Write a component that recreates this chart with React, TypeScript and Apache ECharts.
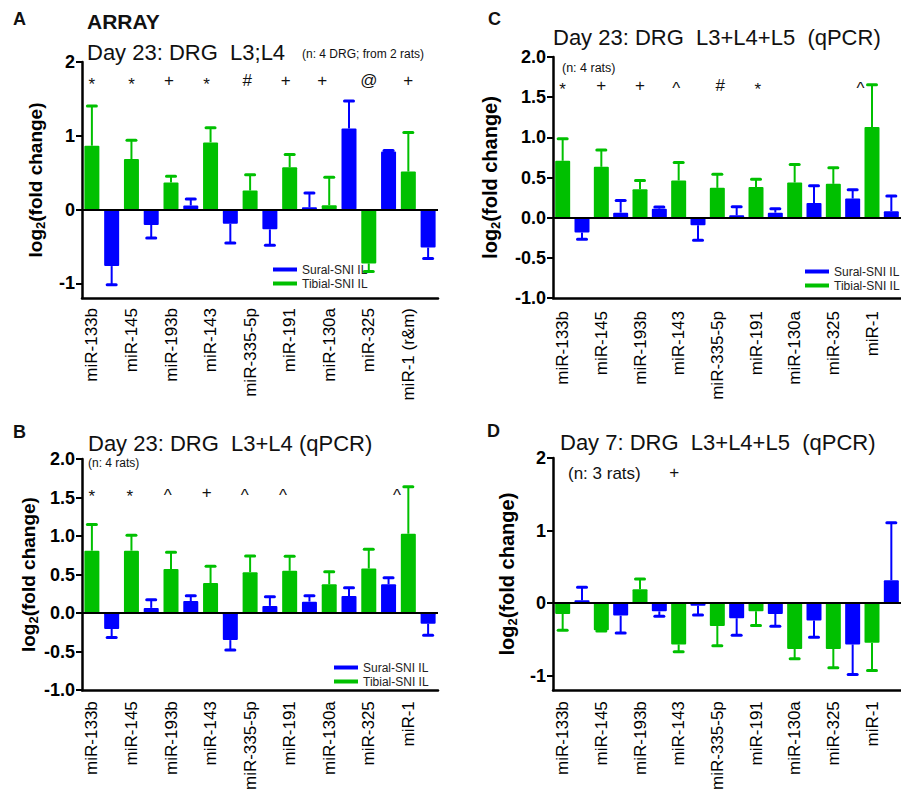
import React, { useEffect, useRef } from 'react';
import * as echarts from 'echarts';

const FONT = '"Liberation Sans", Arial, Helvetica, sans-serif';
const GREEN = '#00C000';
const BLUE = '#0000FF';
const SURAL = 'Sural-SNI IL';
const TIBIAL = 'Tibial-SNI IL';

// categories
const mirsArray = ['miR-133b', 'miR-145', 'miR-193b', 'miR-143', 'miR-335-5p', 'miR-191', 'miR-130a', 'miR-325', 'miR-1 (r&m)'];
const mirsQpcr = ['miR-133b', 'miR-145', 'miR-193b', 'miR-143', 'miR-335-5p', 'miR-191', 'miR-130a', 'miR-325', 'miR-1'];

// Panel A (ARRAY, day 23, L3;L4)
const tibialA = [0.865, 0.685, 0.365, 0.91, 0.257, 0.572, 0.058, -0.731, 0.514];
const tibialSemA = [0.54, 0.255, 0.085, 0.2, 0.215, 0.175, 0.38, 0.11, 0.53];
const suralA = [-0.767, -0.21, 0.054, -0.193, -0.269, 0.03, 1.1, 0.788, -0.516];
const suralSemA = [0.255, 0.175, 0.09, 0.26, 0.215, 0.195, 0.37, 0.012, 0.15];
const marksA: [number, string][] = [[0, '*'], [2, '*'], [3.9, '+'], [5.8, '*'], [7.85, '#'], [9.8, '+'], [11.65, '+'], [14, '@'], [16, '+']];
const markYA = 1.75;

// Panel B (qPCR, day 23, L3+L4)
const tibialB = [0.81, 0.81, 0.574, 0.391, 0.532, 0.549, 0.374, 0.579, 1.03];
const tibialSemB = [0.34, 0.2, 0.217, 0.218, 0.208, 0.19, 0.162, 0.25, 0.61];
const suralB = [-0.205, 0.068, 0.157, -0.35, 0.094, 0.149, 0.221, 0.374, -0.137];
const suralSemB = [0.11, 0.106, 0.07, 0.13, 0.12, 0.077, 0.107, 0.086, 0.15];
const marksB: [number, string][] = [[0, '*'], [1.92, '*'], [3.84, '^'], [5.81, '+'], [7.73, '^'], [9.66, '^'], [15.42, '^']];
const markYB = 1.57;

// Panel C (qPCR, day 23, L3+L4+L5)
const tibialC = [0.708, 0.633, 0.354, 0.4625, 0.371, 0.383, 0.4375, 0.421, 1.129];
const tibialSemC = [0.275, 0.21, 0.108, 0.225, 0.17, 0.096, 0.225, 0.2, 0.525];
const suralC = [-0.186, 0.0625, 0.1125, -0.095, 0.029, 0.0625, 0.183, 0.2375, 0.079];
const suralSemC = [0.083, 0.15, 0.02, 0.186, 0.108, 0.05, 0.213, 0.11, 0.19];
const marksC: [number, string][] = [[0, '*'], [2, '+'], [4, '+'], [5.87, '^'], [8.15, '#'], [10.1, '*'], [15.4, '^']];
const markYC = 1.64;

// Panel D (qPCR, day 7, L3+L4+L5)
const tibialD = [-0.149, -0.375, 0.19, -0.569, -0.316, -0.113, -0.632, -0.632, -0.546];
const tibialSemD = [0.226, 0.01, 0.144, 0.1, 0.27, 0.194, 0.136, 0.26, 0.384];
const suralD = [0.04, -0.172, -0.113, -0.036, -0.208, -0.149, -0.239, -0.569, 0.316];
const suralSemD = [0.18, 0.24, 0.067, 0.127, 0.235, 0.17, 0.23, 0.416, 0.79];
const marksD: [number, string][] = [[5.77, '+']];
const markYD = 1.8;

const intTicks = [-1, 0, 1, 2];
const GLYPH_DY: Record<string, number> = { '*': 4, '^': 3 };

type Panel = {
  names: string[];
  tib: number[]; tibSem: number[]; sur: number[]; surSem: number[];
  marks: [number, string][]; markY: number;
  grid: { left: number; top: number; width: number; height: number };
  min: number; max: number; intOnly: boolean;
  nameGap: number; nameSize: number; labelMargin: number;
};

const panels: Panel[] = [
  { names: mirsArray, tib: tibialA, tibSem: tibialSemA, sur: suralA, surSem: suralSemA, marks: marksA, markY: markYA,
    grid: { left: 82, top: 62, width: 356, height: 236 }, min: -1.2, max: 2, intOnly: true, nameGap: 35, nameSize: 19, labelMargin: 10 },
  { names: mirsQpcr, tib: tibialB, tibSem: tibialSemB, sur: suralB, surSem: suralSemB, marks: marksB, markY: markYB,
    grid: { left: 82, top: 459, width: 356, height: 235 }, min: -1, max: 2, intOnly: false, nameGap: 36, nameSize: 19, labelMargin: 11 },
  { names: mirsQpcr, tib: tibialC, tibSem: tibialSemC, sur: suralC, surSem: suralSemC, marks: marksC, markY: markYC,
    grid: { left: 553, top: 57, width: 355, height: 241 }, min: -1, max: 2, intOnly: false, nameGap: 51, nameSize: 20, labelMargin: 13 },
  { names: mirsQpcr, tib: tibialD, tibSem: tibialSemD, sur: suralD, surSem: suralSemD, marks: marksD, markY: markYD,
    grid: { left: 553, top: 458, width: 355, height: 236 }, min: -1.2, max: 2, intOnly: true, nameGap: 34, nameSize: 20, labelMargin: 11 },
];

function errorSeries(i: number, vals: number[], sems: number[], offset: number, color: string) {
  return {
    type: 'custom',
    xAxisIndex: i,
    yAxisIndex: i,
    silent: true,
    z: 3,
    encode: { x: 0, y: [1, 2] },
    data: vals.map((v, k) => [2 * k + offset, v, v + Math.sign(v) * sems[k]]),
    renderItem: (params: any, api: any) => {
      const x = api.value(0), v = api.value(1), e = api.value(2);
      const p0 = api.coord([x, v]);
      const p1 = api.coord([x, e]);
      const half = 4.5;
      return {
        type: 'group',
        children: [
          { type: 'line', shape: { x1: p0[0], y1: p0[1], x2: p1[0], y2: p1[1] }, style: { stroke: color, lineWidth: 2 } },
          { type: 'line', shape: { x1: p1[0] - half, y1: p1[1], x2: p1[0] + half, y2: p1[1] }, style: { stroke: color, lineWidth: 3, lineCap: 'round' } },
        ],
      };
    },
  };
}

function markerSeries(i: number, marks: [number, string][], markY: number) {
  return {
    type: 'custom',
    xAxisIndex: i,
    yAxisIndex: i,
    silent: true,
    z: 4,
    data: marks.map((m) => [Math.floor(m[0]), markY]),
    renderItem: (params: any, api: any) => {
      const m = marks[params.dataIndex];
      const base = Math.floor(m[0]);
      const frac = m[0] - base;
      const p0 = api.coord([base, markY]);
      const p1 = api.coord([Math.min(base + 1, 17), markY]);
      const step = base + 1 <= 17 ? p1[0] - p0[0] : 0;
      const x = p0[0] + frac * step;
      return {
        type: 'text',
        x,
        y: p0[1] + (GLYPH_DY[m[1]] || 0),
        style: {
          text: m[1], fill: '#111', font: `17px ${FONT}`,
          textAlign: 'center', textVerticalAlign: 'middle', align: 'center', verticalAlign: 'middle',
        },
      };
    },
  };
}

function buildOption() {
  const grid: any[] = [], xAxis: any[] = [], yAxis: any[] = [], series: any[] = [];
  panels.forEach((p, i) => {
    grid.push({ ...p.grid, containLabel: false });
    const axisData = p.names.flatMap((n) => [n, n + ' ']);
    xAxis.push({
      type: 'category', gridIndex: i, data: axisData, boundaryGap: true,
      axisLine: { onZero: false, lineStyle: { color: '#000', width: 2.5 } },
      axisTick: { alignWithLabel: true, interval: 0, length: 9, lineStyle: { color: '#000', width: 2 } },
      axisLabel: { interval: 1, rotate: 90, fontSize: 17, fontFamily: FONT, color: '#000', margin: p.labelMargin },
      splitLine: { show: false },
    });
    const labelCfg: any = {
      fontSize: 18, fontWeight: 'bold', fontFamily: FONT, color: '#000', margin: 7,
    };
    const tickCfg: any = { length: 6, lineStyle: { color: '#000', width: 2 } };
    const y: any = {
      type: 'value', gridIndex: i, min: p.min, max: p.max,
      axisLine: { show: true, lineStyle: { color: '#000', width: 2.5 } },
      splitLine: { show: false },
      name: '{a|log}{s|2}{a|(fold change)}',
      nameLocation: 'middle', nameRotate: 90, nameGap: p.nameGap,
      nameTextStyle: {
        rich: {
          a: { fontSize: p.nameSize, fontWeight: 'bold', fontFamily: FONT, color: '#000', lineHeight: 24 },
          s: { fontSize: 13, fontWeight: 'bold', fontFamily: FONT, color: '#000', lineHeight: 14, verticalAlign: 'bottom' },
        },
      },
    };
    if (p.intOnly) {
      y.axisLabel = { ...labelCfg, customValues: intTicks, formatter: (v: number) => String(Math.round(v)) };
      y.axisTick = { ...tickCfg, show: true, customValues: intTicks };
    } else {
      y.interval = 0.5;
      y.axisLabel = { ...labelCfg, formatter: (v: number) => v.toFixed(1) };
      y.axisTick = { ...tickCfg, show: true };
    }
    yAxis.push(y);

    const greenData: any[] = new Array(18).fill('-');
    p.tib.forEach((v, k) => { greenData[2 * k] = v; });
    const blueData: any[] = new Array(18).fill('-');
    p.sur.forEach((v, k) => { blueData[2 * k + 1] = v; });

    series.push({
      type: 'bar', name: TIBIAL, xAxisIndex: i, yAxisIndex: i, data: greenData,
      barWidth: 15, barGap: '-100%', itemStyle: { color: GREEN, borderRadius: 1 }, z: 2,
      markLine: {
        silent: true, symbol: 'none', label: { show: false }, z: 5,
        lineStyle: { color: '#000', width: 2, type: 'solid' },
        data: [{ yAxis: 0 }],
      },
    });
    series.push({
      type: 'bar', name: SURAL, xAxisIndex: i, yAxisIndex: i, data: blueData,
      barWidth: 15, barGap: '-100%', itemStyle: { color: BLUE, borderRadius: 1 }, z: 2,
    });
    series.push(errorSeries(i, p.tib, p.tibSem, 0, GREEN));
    series.push(errorSeries(i, p.sur, p.surSem, 1, BLUE));
    series.push(markerSeries(i, p.marks, p.markY));
  });

  const legendBase = {
    orient: 'vertical', itemWidth: 24, itemHeight: 4, itemGap: 1, icon: 'rect', selectedMode: false,
    data: [SURAL, TIBIAL],
    textStyle: { fontSize: 12, fontFamily: FONT, color: '#222', lineHeight: 13 },
  };
  const legend = [
    { ...legendBase, left: 268, top: 258 },
    { ...legendBase, left: 329, top: 656 },
    { ...legendBase, left: 800, top: 260 },
  ];

  const t = (text: string, x: number, y: number, font: string) => ({
    type: 'text', x, y, silent: true,
    style: { text, font, fill: '#111', textVerticalAlign: 'middle', verticalAlign: 'middle', textAlign: 'left' },
  });
  const graphic = [
    t('A', 13, 19, `bold 18px ${FONT}`),
    t('ARRAY', 87, 21, `bold 21px ${FONT}`),
    t('Day 23: DRG  L3;L4', 87, 52, `22px ${FONT}`),
    t('(n: 4 DRG; from 2 rats)', 302, 54, `12px ${FONT}`),
    t('B', 13, 432, `bold 18px ${FONT}`),
    t('Day 23: DRG  L3+L4 (qPCR)', 88, 443, `22px ${FONT}`),
    t('(n: 4 rats)', 88, 463, `12px ${FONT}`),
    t('C', 488, 19, `bold 18px ${FONT}`),
    t('Day 23: DRG  L3+L4+L5  (qPCR)', 553, 37, `22px ${FONT}`),
    t('(n: 4 rats)', 562, 68, `12.5px ${FONT}`),
    t('D', 487, 431, `bold 18px ${FONT}`),
    t('Day 7: DRG  L3+L4+L5  (qPCR)', 560, 442, `22px ${FONT}`),
    t('(n: 3 rats)', 568, 473, `17px ${FONT}`),
  ];

  return { animation: false, backgroundColor: '#fff', grid, xAxis, yAxis, series, legend, graphic };
}

export default function App() {
  const ref = useRef<HTMLDivElement>(null);
  useEffect(() => {
    document.body.style.margin = '0';
    if (!ref.current) return;
    const chart = echarts.init(ref.current, undefined, { renderer: 'svg' });
    chart.setOption(buildOption() as any);
    return () => chart.dispose();
  }, []);
  return <div ref={ref} style={{ width: 901, height: 793, overflow: 'hidden' }} />;
}
